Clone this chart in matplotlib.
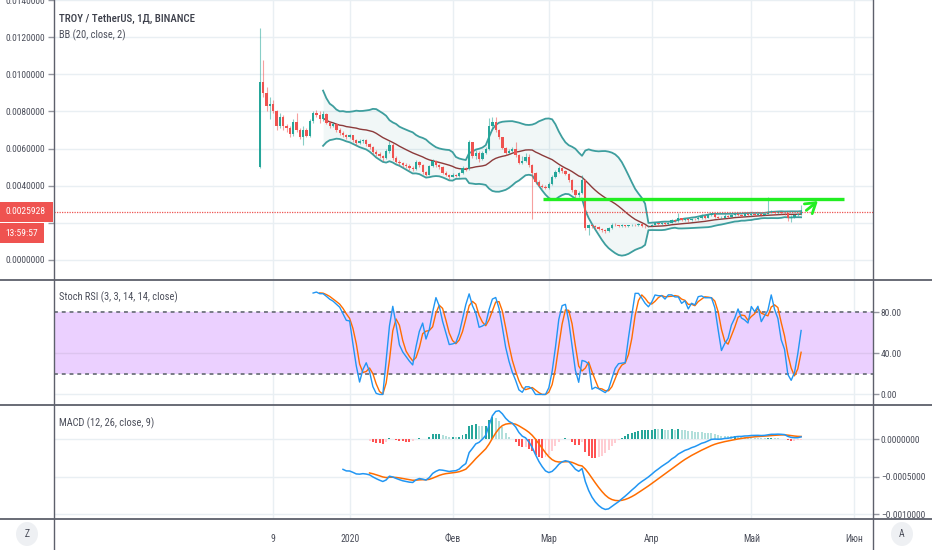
import numpy as np
import pandas as pd
import matplotlib
matplotlib.use("Agg")
import matplotlib.pyplot as plt
from matplotlib import font_manager
from matplotlib.patches import Rectangle, Ellipse
from matplotlib.lines import Line2D

# TradingView uses a narrow face; take a condensed one if the box has it
installed = {f.name for f in font_manager.fontManager.ttflist}
narrow = [f for f in ('Liberation Sans Narrow', 'Roboto Condensed', 'Open Sans Condensed')
          if f in installed]
if narrow:
    plt.rcParams['font.family'] = [narrow[0], 'DejaVu Sans']
    fs_axis, fs_time, fs_title, fs_leg = 6.8, 7.0, 7.8, 7.5
else:
    plt.rcParams['font.family'] = ['Roboto', 'DejaVu Sans']
    fs_axis, fs_time, fs_title, fs_leg = 6.0, 6.2, 6.6, 6.4

# ---------------------------
# data (TROY/USDT daily)
# ---------------------------
start_date = '2019-12-05'
first_open = 0.00500

closes = [
    0.00960, 0.00900, 0.00830, 0.00840, 0.00800, 0.00720, 0.00770, 0.00720, 0.00710, 0.00680,
    0.00745, 0.00700, 0.00665, 0.00700, 0.00670, 0.00750, 0.00790, 0.00780, 0.00760, 0.00785,
    0.00740, 0.00720, 0.00735, 0.00700, 0.00685, 0.00675, 0.00660, 0.00672, 0.00645, 0.00630,
    0.00640, 0.00645, 0.00625, 0.00610, 0.00580, 0.00570, 0.00560, 0.00550, 0.00585, 0.00620,
    0.00550, 0.00530, 0.00520, 0.00510, 0.00505, 0.00495, 0.00490, 0.00530, 0.00510, 0.00475,
    0.00460, 0.00505, 0.00535, 0.00510, 0.00500, 0.00470, 0.00458, 0.00448, 0.00460, 0.00452,
    0.00468, 0.00495, 0.00488, 0.00636, 0.00560, 0.00578, 0.00545, 0.00575, 0.00600, 0.00720,
    0.00745, 0.00700, 0.00660, 0.00605, 0.00575, 0.00585, 0.00600, 0.00565, 0.00522, 0.00535,
    0.00555, 0.00510, 0.00470, 0.00420, 0.00400, 0.00395, 0.00388, 0.00410, 0.00445, 0.00475,
    0.00495, 0.00480, 0.00462, 0.00430, 0.00375, 0.00350, 0.00362, 0.00430, 0.00170, 0.00185,
    0.00180, 0.00175, 0.00168, 0.00158, 0.00155, 0.00170, 0.00190, 0.00185, 0.00180, 0.00186,
    0.00182, 0.00185, 0.00188, 0.00185, 0.00192, 0.00184, 0.00180, 0.00183, 0.00190, 0.00196,
    0.00192, 0.00198, 0.00195, 0.00200, 0.00215, 0.00208, 0.00225, 0.00215, 0.00220, 0.00212,
    0.00222, 0.00218, 0.00228, 0.00235, 0.00228, 0.00240, 0.00245, 0.00230, 0.00224, 0.00228,
    0.00238, 0.00232, 0.00240, 0.00245, 0.00242, 0.00238, 0.00245, 0.00242, 0.00248, 0.00244,
    0.00246, 0.00242, 0.00248, 0.00256, 0.00258, 0.00252, 0.00256, 0.00252, 0.00250, 0.00225,
    0.00232, 0.00240, 0.00245, 0.0025928,
]

highs = [
    0.01250, 0.01077, 0.00930, 0.00880, 0.00860, 0.00810, 0.00790, 0.00780, 0.00730, 0.00720,
    0.00760, 0.00790, 0.00710, 0.00720, 0.00710, 0.00760, 0.00800, 0.00810, 0.00800, 0.00800,
    0.00790, 0.00750, 0.00745, 0.00740, 0.00710, 0.00695, 0.00680, 0.00680, 0.00675, 0.00650,
    0.00650, 0.00650, 0.00650, 0.00630, 0.00615, 0.00590, 0.00580, 0.00565, 0.00595, 0.00640,
    0.00630, 0.00560, 0.00540, 0.00530, 0.00520, 0.00515, 0.00505, 0.00540, 0.00535, 0.00515,
    0.00480, 0.00510, 0.00545, 0.00540, 0.00515, 0.00505, 0.00478, 0.00465, 0.00468, 0.00465,
    0.00475, 0.00505, 0.00500, 0.00648, 0.00610, 0.00590, 0.00585, 0.00585, 0.00610, 0.00765,
    0.00770, 0.00772, 0.00705, 0.00665, 0.00610, 0.00595, 0.00610, 0.00638, 0.00570, 0.00560,
    0.00575, 0.00572, 0.00515, 0.00475, 0.00430, 0.00410, 0.00405, 0.00420, 0.00455, 0.00485,
    0.00505, 0.00500, 0.00485, 0.00468, 0.00435, 0.00380, 0.00370, 0.00455, 0.00435, 0.00195,
    0.00192, 0.00188, 0.00180, 0.00172, 0.00165, 0.00175, 0.00198, 0.00200, 0.00190, 0.00192,
    0.00188, 0.00190, 0.00192, 0.00195, 0.00198, 0.00195, 0.00188, 0.00188, 0.00195, 0.00200,
    0.00200, 0.00203, 0.00202, 0.00205, 0.00220, 0.00218, 0.00255, 0.00228, 0.00228, 0.00225,
    0.00228, 0.00226, 0.00235, 0.00245, 0.00240, 0.00248, 0.00250, 0.00250, 0.00236, 0.00234,
    0.00245, 0.00242, 0.00246, 0.00252, 0.00250, 0.00248, 0.00252, 0.00250, 0.00254, 0.00252,
    0.00252, 0.00250, 0.00254, 0.00338, 0.00266, 0.00262, 0.00262, 0.00260, 0.00258, 0.00255,
    0.00240, 0.00245, 0.00252, 0.00293,
]

lows = [
    0.00495, 0.00880, 0.00800, 0.00760, 0.00790, 0.00700, 0.00710, 0.00700, 0.00690, 0.00665,
    0.00670, 0.00690, 0.00650, 0.00620, 0.00660, 0.00660, 0.00740, 0.00770, 0.00740, 0.00750,
    0.00730, 0.00710, 0.00715, 0.00690, 0.00675, 0.00665, 0.00650, 0.00655, 0.00635, 0.00620,
    0.00625, 0.00632, 0.00615, 0.00600, 0.00570, 0.00560, 0.00550, 0.00535, 0.00545, 0.00575,
    0.00540, 0.00520, 0.00510, 0.00500, 0.00495, 0.00485, 0.00480, 0.00485, 0.00500, 0.00465,
    0.00450, 0.00455, 0.00500, 0.00500, 0.00490, 0.00462, 0.00450, 0.00435, 0.00445, 0.00445,
    0.00448, 0.00462, 0.00480, 0.00485, 0.00550, 0.00545, 0.00530, 0.00540, 0.00570, 0.00590,
    0.00700, 0.00690, 0.00650, 0.00595, 0.00565, 0.00570, 0.00580, 0.00555, 0.00515, 0.00515,
    0.00530, 0.00500, 0.00222, 0.00410, 0.00390, 0.00385, 0.00380, 0.00382, 0.00405, 0.00440,
    0.00470, 0.00470, 0.00455, 0.00420, 0.00365, 0.00335, 0.00340, 0.00355, 0.00160, 0.00131,
    0.00170, 0.00165, 0.00160, 0.00150, 0.00145, 0.00150, 0.00165, 0.00180, 0.00175, 0.00176,
    0.00176, 0.00178, 0.00180, 0.00180, 0.00182, 0.00178, 0.00172, 0.00175, 0.00180, 0.00188,
    0.00186, 0.00188, 0.00190, 0.00190, 0.00196, 0.00203, 0.00205, 0.00208, 0.00210, 0.00205,
    0.00208, 0.00212, 0.00215, 0.00222, 0.00222, 0.00225, 0.00235, 0.00226, 0.00220, 0.00220,
    0.00226, 0.00228, 0.00230, 0.00236, 0.00236, 0.00232, 0.00236, 0.00236, 0.00238, 0.00238,
    0.00240, 0.00236, 0.00240, 0.00245, 0.00250, 0.00246, 0.00248, 0.00246, 0.00244, 0.00210,
    0.00205, 0.00228, 0.00238, 0.00242,
]

month_dates = ['2019-12-09', '2020-01-01', '2020-02-01', '2020-03-01',
               '2020-04-01', '2020-05-01', '2020-06-01']
month_labels = ['9', '2020', 'Фев', 'Мар', 'Апр', 'Май', 'Июн']

price_ticks = [0.0, 0.002, 0.004, 0.006, 0.008, 0.010, 0.012, 0.014]
stoch_ticks = [0, 40, 80]
macd_ticks = [0.0, -0.0005, -0.001]

last_price_label = '0.0025928'
countdown_label = '13:59:57'

# green drawing (user trend line + arrow), in day index / price units
level_line = (85.2, 175.9, 0.00330)
arrow_from = (163.9, 0.00257)
arrow_to = (168.7, 0.00326)

# ---------------------------
# indicators
# ---------------------------
c = pd.Series(closes)
o = pd.Series([first_open] + closes[:-1])
h = pd.Series(highs)
l = pd.Series(lows)
n = len(c)
x = np.arange(n)

basis = c.rolling(20).mean()
dev = c.rolling(20).std(ddof=0)
upper = basis + 2 * dev
lower = basis - 2 * dev

delta = c.diff()
gain = delta.clip(lower=0).ewm(alpha=1 / 14, adjust=False).mean()
loss = (-delta.clip(upper=0)).ewm(alpha=1 / 14, adjust=False).mean()
rsi = 100 - 100 / (1 + gain / loss)
rsi_min = rsi.rolling(14).min()
rsi_max = rsi.rolling(14).max()
stoch = 100 * (rsi - rsi_min) / (rsi_max - rsi_min)
k = stoch.rolling(3).mean()
d = k.rolling(3).mean()

ema12 = c.ewm(span=12, adjust=False).mean()
ema26 = c.ewm(span=26, adjust=False).mean()
macd = (ema12 - ema26).where(x >= 25)
signal = macd.ewm(span=9, adjust=False).mean().where(x >= 33)
hist = macd - signal

start = pd.Timestamp(start_date)
month_pos = [(pd.Timestamp(m) - start).days for m in month_dates]

# ---------------------------
# figure layout (pixel based)
# ---------------------------
W, H = 932, 550
fig = plt.figure(figsize=(W / 100, H / 100), dpi=100)
fig.patch.set_facecolor('white')


def pane(top, bottom, left=53.5, right=872.5):
    return fig.add_axes([left / W, 1 - bottom / H, (right - left) / W, (bottom - top) / H])


ax_p = pane(0, 279.5)
ax_s = pane(281, 404.5)
ax_m = pane(406, 518.5)

grid_c = '#e9eff3'
text_c = '#4b4e5a'
xlim = (-62.2, 184.5)

for ax in (ax_p, ax_s, ax_m):
    ax.set_xlim(*xlim)
    for s in ax.spines.values():
        s.set_visible(False)
    ax.set_xticks(month_pos)
    ax.tick_params(axis='x', length=0, labelbottom=False)
    for mp in month_pos:
        ax.axvline(mp, color=grid_c, lw=1, zorder=0)

# --- price pane ---
ax_p.set_ylim(-0.001065, 0.014016)
for t in price_ticks:
    ax_p.axhline(t, color=grid_c, lw=1, zorder=0)
ax_p.set_yticks(price_ticks)
# the 0.002 label sits under the last-price boxes, as on the reference
ax_p.set_yticklabels(['' if t == 0.002 else '%.7f' % t for t in price_ticks])
ax_p.tick_params(axis='y', length=4, width=1, color='#9598a1', labelsize=fs_axis,
                 labelcolor=text_c, pad=2)

ax_p.fill_between(x, lower, upper, color='#198787', alpha=0.06, lw=0, zorder=1)
ax_p.plot(x, upper, color='#3e9e9e', lw=1.3, zorder=2)
ax_p.plot(x, lower, color='#3e9e9e', lw=1.3, zorder=2)
ax_p.plot(x, basis, color='#8c3a3a', lw=1.0, zorder=2)

up = c >= o
col = np.where(up, '#26a69a', '#ef5350')
ax_p.vlines(x, l, h, colors=col, lw=0.8, alpha=0.55, zorder=3)
body = np.maximum((c - o).abs(), 0.00003)
ax_p.bar(x, body, bottom=np.minimum(o, c), width=0.7, color=col, lw=0, zorder=4)

# last price line
ax_p.axhline(closes[-1], color='#ef5350', lw=0.9, ls=(0, (1, 1)), zorder=5)

# green drawing
ax_p.plot(level_line[:2], [level_line[2]] * 2, color='#22ee22', lw=2.4, zorder=6,
          solid_capstyle='butt')
ax_p.annotate('', xy=arrow_to, xytext=arrow_from,
              arrowprops=dict(arrowstyle='->,head_length=0.7,head_width=0.45',
                              color='#22ee22', lw=2.0), zorder=6)

fig.text(59 / W, 1 - 19 / H, 'TROY / TetherUS, 1Д, BINANCE', fontsize=fs_title,
         color='#3c3f4a', va='center', ha='left', fontweight='medium')
fig.text(59 / W, 1 - 35 / H, 'BB (20, close, 2)', fontsize=fs_leg,
         color=text_c, va='center', ha='left')

# price label boxes on the left scale
fig.patches.append(Rectangle((0, 1 - 221.5 / H), 53 / W, 20 / H, transform=fig.transFigure,
                             facecolor='#ef5350', edgecolor='none', zorder=10))
fig.patches.append(Rectangle((0, 1 - 243 / H), 43.5 / W, 20 / H, transform=fig.transFigure,
                             facecolor='#ef5350', edgecolor='none', zorder=10))
fig.text(26 / W, 1 - 211.5 / H, last_price_label, fontsize=fs_axis, color='white',
         ha='center', va='center', zorder=11)
fig.text(21.5 / W, 1 - 233 / H, countdown_label, fontsize=fs_axis, color='white',
         ha='center', va='center', zorder=11)

# --- stoch rsi pane ---
ax_s.set_ylim(-9.76, 110.2)
for t in stoch_ticks:
    ax_s.axhline(t, color=grid_c, lw=1, zorder=0)
ax_s.axhspan(20, 80, color='#ebd0ff', lw=0, zorder=0.5)
ax_s.axhline(40, color='#dcc4ef', lw=1, zorder=0.6)
for lvl in (20, 80):
    ax_s.axhline(lvl, color='#787b86', lw=1.4, ls=(0, (2, 2)), zorder=1)
ax_s.plot(x, d.where(x >= 18), color='#ff6d00', lw=1.0, zorder=3)
ax_s.plot(x, k.where(x >= 16), color='#2196f3', lw=1.0, zorder=4)
ax_s.yaxis.tick_right()
ax_s.set_yticks(stoch_ticks)
ax_s.set_yticklabels(['%.2f' % t for t in stoch_ticks])
ax_s.tick_params(axis='y', length=4, width=1, color='#9598a1', labelsize=fs_axis,
                 labelcolor=text_c, pad=2)
ax_s.text(59 / W, 1 - 297 / H, 'Stoch RSI (3, 3, 14, 14, close)', fontsize=fs_leg,
          color=text_c, va='center', ha='left', transform=fig.transFigure)

# --- macd pane ---
ax_m.set_ylim(-0.001058, 0.000442)
for t in macd_ticks:
    ax_m.axhline(t, color=grid_c, lw=1, zorder=0)
hist_prev = hist.shift(1)
hcol = np.where(hist >= 0,
                np.where(hist >= hist_prev, '#26a69a', '#b2dfdb'),
                np.where(hist < hist_prev, '#ff5252', '#ffcdd2'))
ax_m.bar(x, hist.fillna(0), width=0.6, color=hcol, lw=0, zorder=2)
ax_m.plot(x, signal, color='#ff6d00', lw=1.1, zorder=3)
ax_m.plot(x, macd, color='#2196f3', lw=1.1, zorder=4)
ax_m.yaxis.tick_right()
ax_m.set_yticks(macd_ticks)
ax_m.set_yticklabels(['%.7f' % t if t == 0 else '\u2212%.7f' % -t for t in macd_ticks])
ax_m.tick_params(axis='y', length=4, width=1, color='#9598a1', labelsize=fs_axis,
                 labelcolor=text_c, pad=2)
ax_m.text(59 / W, 1 - 423 / H, 'MACD (12, 26, close, 9)', fontsize=fs_leg,
          color=text_c, va='center', ha='left', transform=fig.transFigure)

# time axis labels
ax_m.tick_params(axis='x', labelbottom=True, labelsize=fs_time, labelcolor=text_c, pad=11)
ax_m.set_xticklabels(month_labels)

# pane separators
sep_c = '#5d606b'
for yy in (280.2, 405.2, 519):
    fig.add_artist(Line2D([0, 1], [1 - yy / H] * 2, color=sep_c, lw=1.3))
for xx in (53.5, 872.5):
    fig.add_artist(Line2D([xx / W] * 2, [0, 1], color=sep_c, lw=1.0))

# corner buttons
for cx, lab in ((27, 'Z'), (902, 'A')):
    fig.add_artist(Ellipse((cx / W, 1 - 534 / H), 22 / W, 24 / H, transform=fig.transFigure,
                           facecolor='#eef0f3', edgecolor='none'))
    fig.text(cx / W, 1 - 534 / H, lab, fontsize=fs_time, color=text_c, ha='center', va='center')

fig.savefig('out.png', dpi=100)
